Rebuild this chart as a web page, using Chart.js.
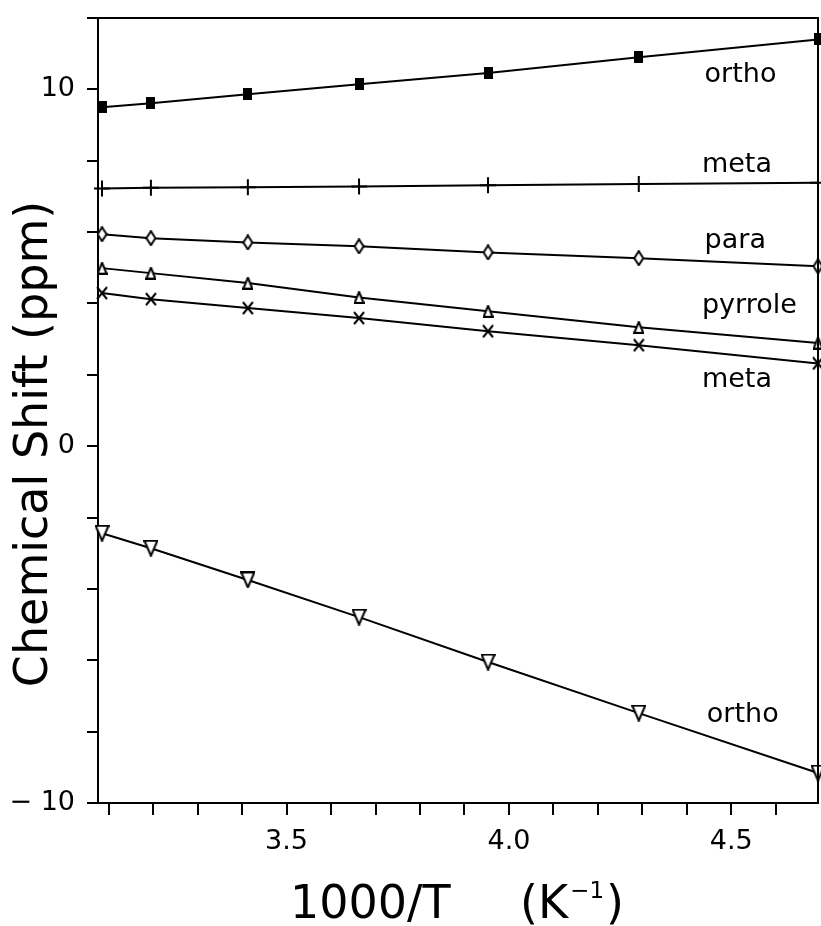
<!DOCTYPE html>
<html>
<head>
<meta charset="utf-8">
<script src="https://cdn.jsdelivr.net/npm/chart.js@4.4.0/dist/chart.umd.min.js"></script>
<style>
  html, body { margin: 0; padding: 0; background: #fff; }
  #chartBox { width: 821px; height: 926px; position: relative; }
</style>
</head>
<body>
<div id="chartBox"><canvas id="myChart"></canvas></div>
<script>
// data: 1000/T (K^-1) and chemical shift (ppm)
const invT = [3.085, 3.195, 3.413, 3.663, 3.953, 4.292, 4.695];
const orthoUpper = [9.50, 9.61, 9.86, 10.14, 10.46, 10.90, 11.40];
const metaUpper = [7.22, 7.24, 7.26, 7.28, 7.31, 7.35, 7.38];
const paraShift = [5.94, 5.83, 5.71, 5.60, 5.43, 5.27, 5.04];
const pyrroleShift = [4.99, 4.85, 4.57, 4.17, 3.78, 3.33, 2.89];
const metaLower = [4.29, 4.12, 3.87, 3.59, 3.22, 2.83, 2.32];
const orthoLower = [-2.44, -2.86, -3.75, -4.79, -6.05, -7.48, -9.16];

const seriesNames = ["ortho", "meta", "para", "pyrrole", "meta", "ortho"];

// ticks
const xTickValues = [3.1, 3.2, 3.3, 3.4, 3.5, 3.6, 3.7, 3.8, 3.9, 4.0, 4.1, 4.2, 4.3, 4.4, 4.5, 4.6];
const xTickLabels = ["3.5", "4.0", "4.5"];
const yTickValues = [-10, -8, -6, -4, -2, 0, 2, 4, 6, 8, 10, 12];
const yLabelValues = [-10, 0, 10];
const yTickLabels = ["\u2212 10", "0", "10"];

const FONT = 'DejaVu Sans';

// small canvases used as point markers
function makeMarker(w, h, draw) {
  const c = document.createElement('canvas');
  c.width = w;
  c.height = h;
  const g = c.getContext('2d');
  g.strokeStyle = '#000';
  g.fillStyle = '#000';
  g.lineWidth = 2;
  draw(g, w, h);
  return c;
}

const squareMark = makeMarker(9, 12, (g, w, h) => g.fillRect(0, 0, w, h));
const diamondMark = makeMarker(11, 16, (g, w, h) => {
  g.beginPath();
  g.moveTo(w / 2, 1); g.lineTo(w - 1, h / 2); g.lineTo(w / 2, h - 1); g.lineTo(1, h / 2);
  g.closePath();
  g.fillStyle = '#fff'; g.fill(); g.stroke();
});
const triUpMark = makeMarker(11, 13, (g, w, h) => {
  g.beginPath();
  g.moveTo(w / 2, 1); g.lineTo(w - 1, h - 1); g.lineTo(1, h - 1);
  g.closePath();
  g.fillStyle = '#fff'; g.fill(); g.stroke();
});
const xMark = makeMarker(12, 14, (g, w, h) => {
  g.beginPath();
  g.moveTo(1, 1); g.lineTo(w - 1, h - 1);
  g.moveTo(w - 1, 1); g.lineTo(1, h - 1);
  g.stroke();
});
const triDownMark = makeMarker(15, 17, (g, w, h) => {
  g.beginPath();
  g.moveTo(1, 1); g.lineTo(w - 1, 1); g.lineTo(w / 2, h - 1);
  g.closePath();
  g.fillStyle = '#fff'; g.fill(); g.stroke();
});

function series(values, style, radius) {
  return {
    data: invT.map((x, i) => ({ x: x, y: values[i] })),
    showLine: true,
    borderColor: '#000',
    borderWidth: 2,
    pointStyle: style,
    pointRadius: radius || 6,
    pointBorderColor: '#000',
    pointBackgroundColor: '#fff',
    pointBorderWidth: 2,
    clip: false,
  };
}

// frame, series names and axis titles
const labelSpots = [[4.44, 10.2], [4.434, 7.68], [4.44, 5.55], [4.434, 3.73], [4.434, 1.65], [4.445, -7.73]];

const decorPlugin = {
  id: 'decor',
  afterDraw(chart) {
    const { ctx, chartArea: a, scales } = chart;
    ctx.save();
    ctx.strokeStyle = '#000';
    ctx.lineWidth = 2;
    ctx.beginPath();
    ctx.moveTo(a.left, a.top);
    ctx.lineTo(a.right, a.top);
    ctx.lineTo(a.right, a.bottom);
    ctx.stroke();

    ctx.fillStyle = '#000';
    ctx.textBaseline = 'alphabetic';
    ctx.textAlign = 'left';
    ctx.font = '27px "' + FONT + '"';
    labelSpots.forEach((p, i) => {
      ctx.fillText(seriesNames[i], scales.x.getPixelForValue(p[0]), scales.y.getPixelForValue(p[1]));
    });

    // y title
    ctx.save();
    ctx.translate(47, 444);
    ctx.rotate(-Math.PI / 2);
    ctx.textAlign = 'center';
    ctx.font = '46px "' + FONT + '"';
    ctx.fillText('Chemical Shift (ppm)', 0, 0);
    ctx.restore();

    // x title with superscript
    const base = 918;
    ctx.font = '46px "' + FONT + '"';
    ctx.fillText('1000/T', 290, base);
    let xPos = 520;
    ctx.fillText('(K', xPos, base);
    xPos += ctx.measureText('(K').width + 2;
    ctx.font = '23px "' + FONT + '"';
    ctx.fillText('\u22121', xPos, base - 20);
    xPos += ctx.measureText('\u22121').width + 2;
    ctx.font = '46px "' + FONT + '"';
    ctx.fillText(')', xPos, base);
    ctx.restore();
  }
};

Chart.defaults.font.family = FONT;
Chart.defaults.color = '#000';

const ctx = document.getElementById('myChart').getContext('2d');
new Chart(ctx, {
  type: 'scatter',
  data: {
    datasets: [
      series(orthoUpper, squareMark),
      series(metaUpper, 'cross', 8),
      series(paraShift, diamondMark),
      series(pyrroleShift, triUpMark),
      series(metaLower, xMark),
      series(orthoLower, triDownMark),
    ]
  },
  options: {
    responsive: true,
    maintainAspectRatio: false,
    animation: false,
    layout: { autoPadding: false, padding: { top: 18, right: 3, left: 0, bottom: 0 } },
    scales: {
      x: {
        type: 'linear',
        min: 3.076,
        max: 4.695,
        afterBuildTicks: (s) => { s.ticks = xTickValues.map(v => ({ value: v })); },
        afterFit: (s) => {
          s.height = 123;
          s.paddingLeft = 0;
          s.paddingRight = 0;
        },
        grid: { drawOnChartArea: false, drawTicks: true, tickLength: 12, color: '#000', lineWidth: 2 },
        border: { display: true, color: '#000', width: 2 },
        ticks: {
          autoSkip: false,
          maxRotation: 0,
          padding: 11,
          font: { family: FONT, size: 27 },
          color: '#000',
          callback: (v) => {
            const s = v.toFixed(1);
            return xTickLabels.includes(s) ? s : '';
          },
        },
      },
      y: {
        type: 'linear',
        min: -10,
        max: 12,
        afterBuildTicks: (s) => { s.ticks = yTickValues.map(v => ({ value: v })); },
        afterFit: (s) => {
          s.width = 98;
          s.paddingTop = 0;
          s.paddingBottom = 0;
        },
        grid: { drawOnChartArea: false, drawTicks: true, tickLength: 11, color: '#000', lineWidth: 2 },
        border: { display: true, color: '#000', width: 2 },
        ticks: {
          autoSkip: false,
          padding: 12,
          font: { family: FONT, size: 27 },
          color: '#000',
          callback: (v) => {
            const i = yLabelValues.indexOf(Math.round(v));
            return i >= 0 ? yTickLabels[i] : '';
          },
        },
      },
    },
    plugins: {
      legend: { display: false },
      tooltip: { enabled: false },
    },
  },
  plugins: [decorPlugin],
});
</script>
</body>
</html>
